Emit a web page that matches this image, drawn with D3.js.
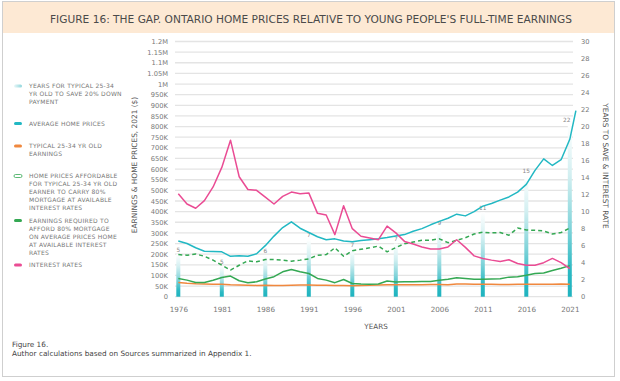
<!DOCTYPE html>
<html><head><meta charset="utf-8">
<script src="https://cdn.jsdelivr.net/npm/d3@7"></script>
<style>
html,body{margin:0;padding:0;background:#fff;}
svg{display:block;}
text{font-family:"DejaVu Sans",sans-serif;}
</style></head>
<body><svg id="c" width="620" height="381"></svg>
<script>
// ---------- DATA ----------
const years = d3.range(1976, 2022);
const avgHomePrice = [262,250,230,214,213,211,190,192,190,202,240,285,325,352,322,302,282,268,272,262,258,264,268,272,278,285,292,308,320,338,354,369,388,380,400,426,438,454,469,492,528,594,648,617,644,740];
const priceYearsExtra = [2021.7];
const priceExtra = [875];
const earnings = [67,63,61,60,59,58,56,55,54,53,54,53,53,54,55,55,54,54,53,53,52,53,54,55,56,56,56,56,56,57,57,56,60,60,59,58,58,57,57,59,58,59,59,59,60,59];
const affordablePrice = [198,195,201,190,172,148,125,148,169,164,175,175,172,167,172,178,195,198,230,190,216,223,230,238,211,231,249,257,265,266,272,254,265,277,295,303,300,302,289,323,314,312,309,295,302,323];
const requiredEarnings = [86,78,67,67,77,90,97,75,66,70,83,94,117,128,117,109,86,78,66,81,62,60,59,60,74,69,70,70,71,72,77,82,89,86,82,82,83,84,92,94,101,109,111,123,134,146];
const interestRate = [12.1,10.9,10.4,11.3,12.9,15.2,18.4,14.1,12.6,12.5,11.7,10.9,11.8,12.3,12.1,12.2,9.8,9.6,7.3,10.7,8.0,7.1,6.9,6.7,8.3,7.5,6.5,6.2,5.85,5.6,5.6,5.85,6.7,5.8,4.8,4.5,4.3,4.15,4.35,3.9,3.7,3.7,4.0,4.5,4.0,3.3];
const barYears = [1976,1981,1986,1991,1996,2001,2006,2011,2016,2021];
const barHeights = [5.0,3.6,4.8,6.7,5.6,6.25,8.1,9.9,14.3,20.3];
const barLabels = ["5","5","6","7","7","7","9","11","15","22"];
const leftTicks = d3.range(0, 1200001, 50000);
const rightTicks = d3.range(0, 31, 2);
const xTicks = [1976,1981,1986,1991,1996,2001,2006,2011,2016,2021];
const legendItems = [
  {key:"bar", lines:["YEARS FOR TYPICAL 25-34","YR OLD TO SAVE 20% DOWN","PAYMENT"], y:86},
  {key:"price", lines:["AVERAGE HOME PRICES"], y:123.5},
  {key:"earn", lines:["TYPICAL 25-34 YR OLD","EARNINGS"], y:146},
  {key:"afford", lines:["HOME PRICES AFFORDABLE","FOR TYPICAL 25-34 YR OLD","EARNER TO CARRY 80%","MORTGAGE AT AVAILABLE","INTEREST RATES"], y:176},
  {key:"req", lines:["EARNINGS REQUIRED TO","AFFORD 80% MORTGAGE","ON AVERAGE PRICES HOME","AT AVAILABLE INTEREST","RATES"], y:220.5},
  {key:"rate", lines:["INTEREST RATES"], y:265}
];
// ---------- STYLE ----------
const C = {teal:"#22b8c3", orange:"#f0883e", green:"#34a853", pink:"#ea4c94", grid:"#e4e4e4", tick:"#777", text:"#555"};

const svg = d3.select("#c");
// frame
svg.append("rect").attr("x",2.5).attr("y",1.5).attr("width",612).attr("height",375)
  .attr("fill","#fff").attr("stroke","#cfcfcf").attr("stroke-width",1);
svg.append("rect").attr("x",3).attr("y",2).attr("width",611).attr("height",31).attr("fill","#fde9d4");
svg.append("text").attr("x",311).attr("y",22.5).attr("text-anchor","middle")
  .attr("font-size",10).attr("fill","#4a4a4a").attr("textLength",522).attr("lengthAdjust","spacingAndGlyphs")
  .text("FIGURE 16: THE GAP. ONTARIO HOME PRICES RELATIVE TO YOUNG PEOPLE'S FULL-TIME EARNINGS");

const x = d3.scaleLinear().domain([1976,2021]).range([178.3,569.8]);
const yL = d3.scaleLinear().domain([0,1200000]).range([296.7,41.5]);
const yR = d3.scaleLinear().domain([0,30]).range([296.7,41.5]);
const gx0 = 175, gx1 = 573;

// grid
svg.append("g").selectAll("line").data(leftTicks).join("line")
  .attr("x1",gx0).attr("x2",gx1).attr("y1",d=>yL(d)).attr("y2",d=>yL(d))
  .attr("stroke",C.grid).attr("stroke-width",1.3);

// axes
const fmt = d => d===0 ? "0" : d>=1000000 ? (d/1000000)+"M" : (d/1000)+"K";
const aL = svg.append("g").attr("transform","translate(170,0)")
  .call(d3.axisLeft(yL).tickValues(leftTicks).tickFormat(fmt).tickSize(0).tickPadding(2));
const aR = svg.append("g").attr("transform","translate(579,0)")
  .call(d3.axisRight(yR).tickValues(rightTicks).tickSize(0).tickPadding(2));
const aX = svg.append("g").attr("transform","translate(0,303)")
  .call(d3.axisBottom(x).tickValues(xTicks).tickFormat(d3.format("d")).tickSize(0).tickPadding(4));
[aL,aR,aX].forEach(a=>{a.select(".domain").remove();
  a.selectAll("text").attr("fill",C.tick).style("font-family","'DejaVu Sans',sans-serif").attr("font-size",6.7);});
aX.selectAll("text").attr("font-size",7.2);

// axis titles
svg.append("text").attr("transform","translate(137,165) rotate(-90)").attr("text-anchor","middle")
  .attr("font-size",7.4).attr("fill",C.text).text("EARNINGS & HOME PRICES, 2021 ($)");
svg.append("text").attr("transform","translate(603,166) rotate(90)").attr("text-anchor","middle")
  .attr("font-size",7.4).attr("fill",C.text).text("YEARS TO SAVE & INTEREST RATE");
svg.append("text").attr("x",376).attr("y",329).attr("text-anchor","middle")
  .attr("font-size",7.2).attr("fill",C.text).text("YEARS");

// gradient
const defs = svg.append("defs");
const g1 = defs.append("linearGradient").attr("id","barg").attr("x1",0).attr("y1",0).attr("x2",0).attr("y2",1);
[[0,"#ffffff"],[0.3,"#d2eff1"],[0.6,"#82d4da"],[0.85,"#2cb9c3"],[1,"#1fb3bf"]].forEach(s=>g1.append("stop").attr("offset",s[0]).attr("stop-color",s[1]));
const g2 = defs.append("linearGradient").attr("id","legg").attr("x1",0).attr("y1",0).attr("x2",1).attr("y2",0);
[[0,"#e9f7f8"],[1,"#8fd6dc"]].forEach(s=>g2.append("stop").attr("offset",s[0]).attr("stop-color",s[1]));

// bars
const bw = 4;
svg.append("g").selectAll("rect").data(barYears).join("rect")
  .attr("x",(d)=>x(d)-bw/2).attr("width",bw)
  .attr("y",(d,i)=>yR(barHeights[i])).attr("height",(d,i)=>yR(0)-yR(barHeights[i]))
  .attr("fill","url(#barg)");
svg.append("g").selectAll("text").data(barYears).join("text")
  .attr("x",(d,i)=>x(d)-(i===9?3:0)).attr("y",(d,i)=>yR(barHeights[i])-2.5)
  .attr("text-anchor","middle").attr("font-size",5.8).attr("fill","#888").text((d,i)=>barLabels[i]);

// lines
const lineL = d3.line().x(d=>x(d[0])).y(d=>yL(d[1]*1000));
const lineR = d3.line().x(d=>x(d[0])).y(d=>yR(d[1]));
const zip = arr => years.map((yr,i)=>[yr,arr[i]]);
const path = (data, gen, color, dash) => svg.append("path").datum(data).attr("d",gen)
  .attr("fill","none").attr("stroke",color).attr("stroke-width",1.5).attr("stroke-linejoin","round")
  .attr("stroke-dasharray",dash||null);
path(zip(earnings), lineL, C.orange);
path(zip(requiredEarnings), lineL, C.green);
path(zip(affordablePrice), lineL, C.green, "4,3");
path(zip(avgHomePrice).concat(priceYearsExtra.map((yr,i)=>[yr,priceExtra[i]])), lineL, C.teal);
path(zip(interestRate), lineR, C.pink);

// legend
const lg = svg.append("g");
legendItems.forEach(it=>{
  const sw = lg.append("rect").attr("x",14).attr("y",it.y-1.5).attr("width",8).attr("height",3).attr("rx",1.5);
  if(it.key==="bar") sw.attr("fill","url(#legg)");
  else if(it.key==="price") sw.attr("fill",C.teal);
  else if(it.key==="earn") sw.attr("fill",C.orange);
  else if(it.key==="afford") sw.attr("fill","#fff").attr("stroke",C.green).attr("stroke-width",0.8);
  else if(it.key==="req") sw.attr("fill",C.green);
  else sw.attr("fill",C.pink);
  it.lines.forEach((l,j)=>lg.append("text").attr("x",29).attr("y",it.y+2+j*8)
    .attr("font-size",6).attr("letter-spacing",0.25).attr("fill","#777").text(l));
});

// footer
svg.append("text").attr("x",12).attr("y",347).attr("font-size",7.3).attr("fill","#444").text("Figure 16.");
svg.append("text").attr("x",12).attr("y",356).attr("font-size",7.3).attr("fill","#444").text("Author calculations based on Sources summarized in Appendix 1.");
</script></body></html>
